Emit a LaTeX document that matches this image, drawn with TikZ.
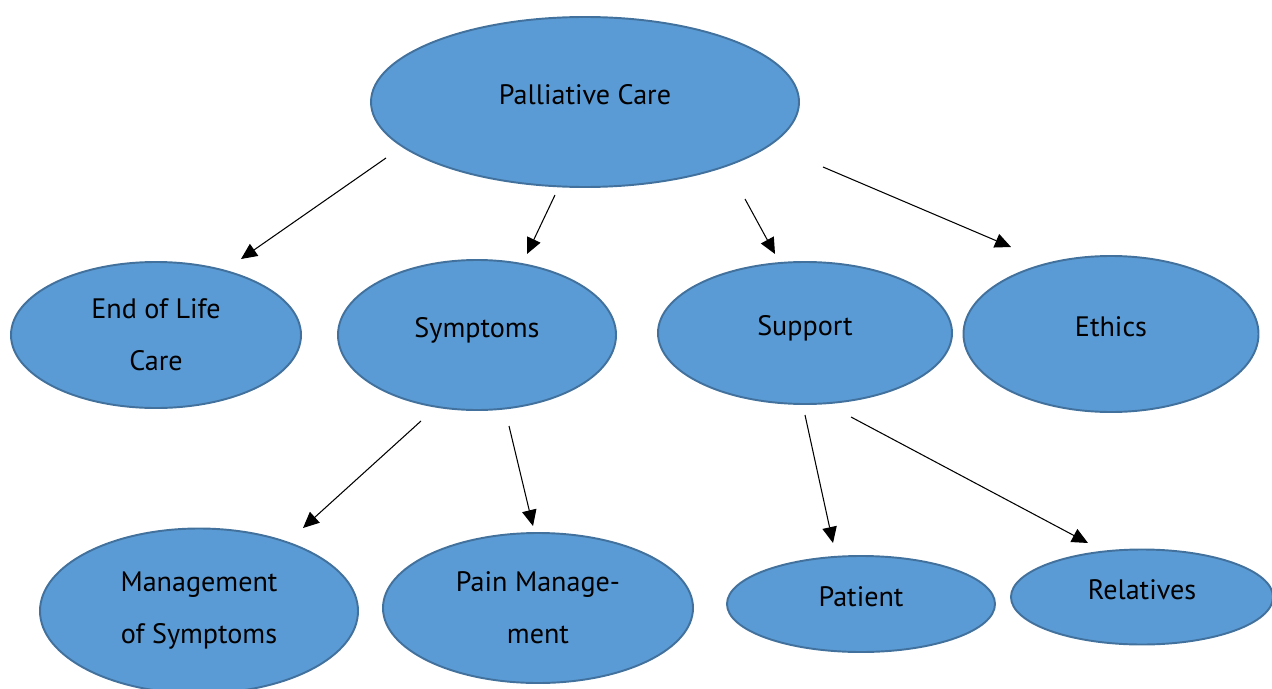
\documentclass[tikz,border=0pt]{standalone}
\usepackage{fontspec}
\setmainfont{PT Sans}
\usepackage{tikz}
\usetikzlibrary{shapes.geometric,arrows.meta}

\definecolor{bubblefill}{HTML}{5B9BD5}
\definecolor{bubbleline}{HTML}{41719C}

\tikzset{
  bubble/.style={ellipse,draw=bubbleline,fill=bubblefill,line width=1.1pt,
    inner sep=0pt,align=center,font=\fontsize{16}{29.6}\selectfont},
  oneline/.style={text height=0.7em,text depth=1.5mm},
  link/.style={-{Triangle[length=3.2mm,width=2.9mm]},line width=0.6pt}
}

\begin{document}
\begin{tikzpicture}[x=0.2mm,y=-0.2mm]
\useasboundingbox (0,0) rectangle (1272,688);

\node[bubble,oneline,minimum width=85.6mm,minimum height=34mm] (care) at (585,102) {Palliative Care};

\node[bubble,minimum width=58mm,minimum height=29.2mm] (eol) at (156,335) {End of Life\\Care};
\node[bubble,oneline,minimum width=55.6mm,minimum height=30mm] (sym) at (477,335) {Symptoms};
\node[bubble,oneline,minimum width=58.8mm,minimum height=28.4mm] (sup) at (805,333) {Support};
\node[bubble,oneline,minimum width=59mm,minimum height=31.2mm] (eth) at (1111,334) {Ethics};

\node[bubble,minimum width=63.6mm,minimum height=33mm] (msym) at (199,611) {Management\\of Symptoms};
\node[bubble,minimum width=62mm,minimum height=30mm] (pain) at (538,608) {Pain Manage-\\ment};
\node[bubble,oneline,minimum width=53.6mm,minimum height=19.2mm] (pat) at (861,604) {Patient};
\node[bubble,oneline,minimum width=52.4mm,minimum height=19mm] (rel) at (1142,597) {Relatives};

% arrow ends
\coordinate (care-eol) at (386,158);  \coordinate (eol-in) at (241,259);
\coordinate (care-sym) at (555,195);  \coordinate (sym-in) at (527,254);
\coordinate (care-sup) at (745,199);  \coordinate (sup-in) at (775,254);
\coordinate (care-eth) at (823,167);  \coordinate (eth-in) at (1011,247);
\coordinate (sym-msym) at (421,421);  \coordinate (msym-in) at (303,528);
\coordinate (sym-pain) at (509,426);  \coordinate (pain-in) at (533,526);
\coordinate (sup-pat) at (805,415);   \coordinate (pat-in) at (833,543);
\coordinate (sup-rel) at (851,417);   \coordinate (rel-in) at (1088,543);

\draw[link] (care-eol) -- (eol-in);
\draw[link] (care-sym) -- (sym-in);
\draw[link] (care-sup) -- (sup-in);
\draw[link] (care-eth) -- (eth-in);

\draw[link] (sym-msym) -- (msym-in);
\draw[link] (sym-pain) -- (pain-in);

\draw[link] (sup-pat) -- (pat-in);
\draw[link] (sup-rel) -- (rel-in);
\end{tikzpicture}
\end{document}
